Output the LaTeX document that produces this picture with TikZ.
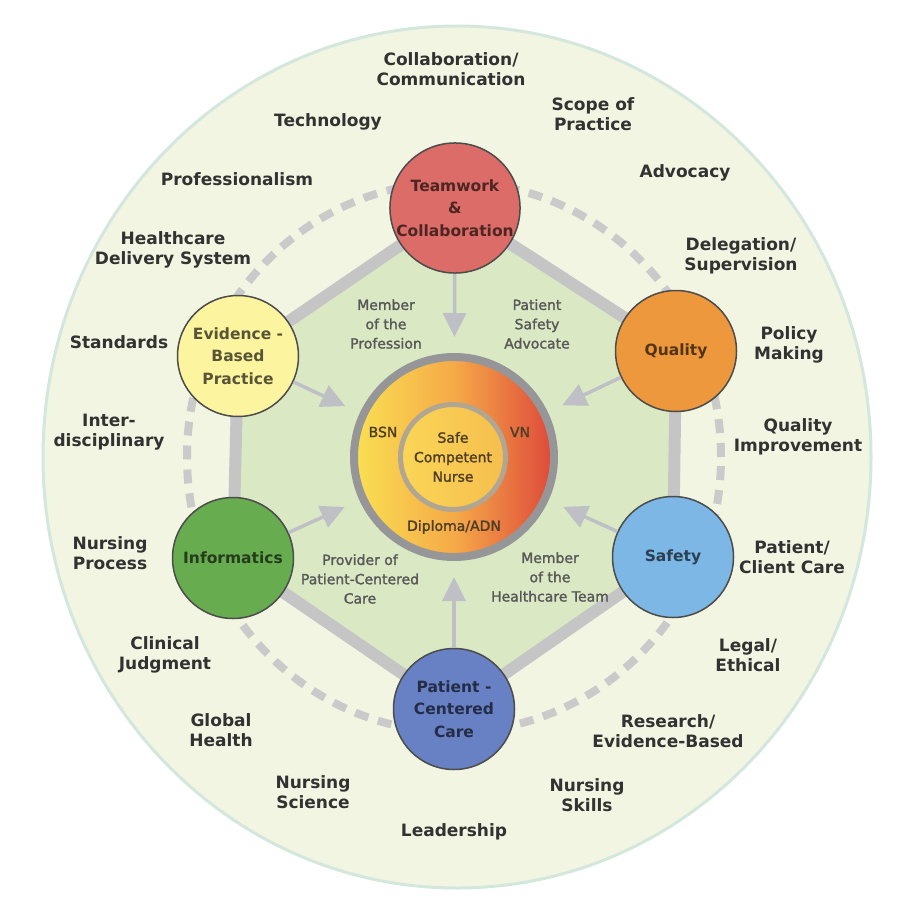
\documentclass[tikz,border=0pt]{standalone}
\usepackage{fontspec}
\setmainfont{DejaVu Sans}
\newfontfamily\rolefamily[FakeBold=1.6]{DejaVu Sans}
\usetikzlibrary{arrows.meta, backgrounds}
\definecolor{discfill}{RGB}{242,245,225}
\definecolor{discline}{RGB}{212,231,221}
\definecolor{hexfill}{RGB}{218,233,196}
\definecolor{hexline}{RGB}{197,197,197}
\definecolor{dashgray}{RGB}{202,202,202}
\definecolor{flowgray}{RGB}{190,192,198}
\definecolor{ringgray}{RGB}{150,150,152}
\definecolor{innerring}{RGB}{176,166,146}
\definecolor{coreyellow}{RGB}{250,224,82}
\definecolor{coreorange}{RGB}{245,170,72}
\definecolor{corered}{RGB}{222,72,58}
\definecolor{nurselight}{RGB}{250,214,86}
\definecolor{nursedark}{RGB}{246,190,78}
\definecolor{teamred}{RGB}{219,108,103}
\definecolor{qualorange}{RGB}{238,152,62}
\definecolor{safeblue}{RGB}{124,183,230}
\definecolor{pccblue}{RGB}{104,128,196}
\definecolor{infogreen}{RGB}{104,172,80}
\definecolor{ebpyellow}{RGB}{252,244,158}
\definecolor{labeltext}{RGB}{50,50,50}
\definecolor{roletext}{RGB}{88,88,88}
\definecolor{coretext}{RGB}{78,62,40}

\begin{document}
\begin{tikzpicture}[x=1pt, y=-1pt,
    competency/.style={circle, draw=black!70, line width=1.5pt, minimum size=121pt, inner sep=0pt, align=center, font=\fontsize{15.5}{22.5}\selectfont\bfseries},
    topic/.style={align=center, text=labeltext, inner sep=0pt, font=\fontsize{17}{20.5}\selectfont\bfseries},
    role/.style={align=center, text=roletext, inner sep=0pt, font=\rolefamily\fontsize{14}{19.3}\selectfont},
    level/.style={align=center, text=coretext, inner sep=0pt, font=\rolefamily\fontsize{14}{19.5}\selectfont},
    flow/.style={draw=flowgray, line width=3.5pt, -{Triangle[length=24pt, width=23pt]}, shorten >=16pt}]
    \useasboundingbox (0,0) rectangle (897,907);

    % competencies
    \node[competency, fill=teamred, text=teamred!35!black] (tw) at (455,208) {Teamwork\\\&\\Collaboration};
    \node[competency, fill=qualorange, text=qualorange!35!black] (ql) at (676,351) {Quality};
    \node[competency, fill=safeblue, text=safeblue!35!black] (sf) at (673,557) {Safety};
    \node[competency, fill=pccblue, text=pccblue!35!black] (pc) at (454,709) {Patient -\\Centered\\Care};
    \node[competency, fill=infogreen, text=infogreen!35!black] (inf) at (233,558) {Informatics};
    \node[competency, fill=ebpyellow, text=ebpyellow!35!black] (ebp) at (238,356) {Evidence -\\Based\\Practice};

    % core
    \node[circle, minimum size=200pt, inner sep=0pt, draw=ringgray, line width=8pt, left color=coreyellow, right color=corered, middle color=coreorange] (core) at (454,457) {};
    \node[circle, minimum size=105pt, inner sep=0pt, draw=innerring, line width=5pt, left color=nurselight, right color=nursedark, level] (nurse) at (453,457) {Safe\\Competent\\Nurse};
    \node[level] (bsn) at (383,432) {BSN};
    \node[level] (vn) at (520,432) {VN};
    \node[level] (adn) at (454,527) {Diploma/ADN};

    \draw[flow] (tw) -- (core);
    \draw[flow] (ql) -- (core);
    \draw[flow] (sf) -- (core);
    \draw[flow] (pc) -- (core);
    \draw[flow] (inf) -- (core);
    \draw[flow] (ebp) -- (core);

    % roles
    \node[role] (mprof) at (386,324) {Member\\of the\\Profession};
    \node[role] (advocate) at (537,324) {Patient\\Safety\\Advocate};
    \node[role] (provider) at (360,579) {Provider of\\Patient-Centered\\Care};
    \node[role] (mteam) at (550,577) {Member\\of the\\Healthcare Team};

    % topics
    \node[topic] (collab) at (451,69) {Collaboration/\\Communication};
    \node[topic] (scope) at (593,114) {Scope of\\Practice};
    \node[topic] (tech) at (328,122) {Technology};
    \node[topic] (advocacy) at (685,173) {Advocacy};
    \node[topic] (prof) at (237,179) {Professionalism};
    \node[topic] (hds) at (173,250) {Healthcare\\Delivery System};
    \node[topic] (deleg) at (741,256) {Delegation/\\Supervision};
    \node[topic] (standards) at (119,342) {Standards};
    \node[topic] (policy) at (789,345) {Policy\\Making};
    \node[topic] (interdis) at (109,432) {Inter-\\disciplinary};
    \node[topic] (qi) at (798,437) {Quality\\Improvement};
    \node[topic] (nproc) at (110,553) {Nursing\\Process};
    \node[topic] (pcc) at (792,557) {Patient/\\Client Care};
    \node[topic] (clinical) at (165,655) {Clinical\\Judgment};
    \node[topic] (legal) at (748,655) {Legal/\\Ethical};
    \node[topic] (global) at (221,730) {Global\\Health};
    \node[topic] (research) at (668,731) {Research/\\Evidence-Based};
    \node[topic] (nsci) at (313,792) {Nursing\\Science};
    \node[topic] (nskills) at (587,795) {Nursing\\Skills};
    \node[topic] (leader) at (454,832) {Leadership};

    \begin{scope}[on background layer]
        \fill[white] (0,0) rectangle (897,907);
        \draw[discline, fill=discfill, line width=3pt] (457,457) ellipse [x radius=414pt, y radius=431pt];
        \draw[dashgray, line width=8pt, dash pattern=on 14pt off 10pt] (454,457) ellipse [x radius=267pt, y radius=275pt];
        \fill[hexfill] (tw.center) -- (ql.center) -- (sf.center) -- (pc.center) -- (inf.center) -- (ebp.center) -- cycle;
        \draw[hexline, line width=12pt, line join=round] (tw.center) -- (ql.center) -- (sf.center) -- (pc.center) -- (inf.center) -- (ebp.center) -- cycle;
    \end{scope}
\end{tikzpicture}
\end{document}
